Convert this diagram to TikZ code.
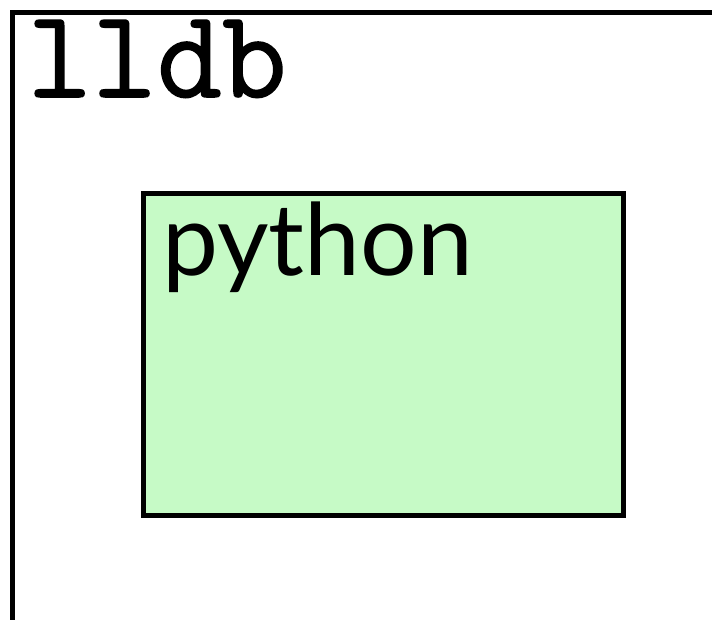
\documentclass[tikz,border=0pt]{standalone}
\usepackage{fontspec}
\newfontfamily\codefont{Latin Modern Mono}[FakeBold=1.2]
\newfontfamily\labelfont{Lato}
\definecolor{pyfill}{HTML}{C6FAC6}
\begin{document}
\begin{tikzpicture}[x=1pt,y=-1pt,
  frame/.style={draw=black,line width=5pt},
  pybox/.style={frame,fill=pyfill,inner sep=0pt,outer sep=0pt,minimum width=480pt,minimum height=322pt,anchor=north west}]
\useasboundingbox (0,0) rectangle (712,619);
\clip (0,0) rectangle (712,619);
% outer lldb frame, running off the right and bottom edges
\coordinate (lldbbl) at (12.5,640);
\coordinate (lldbtl) at (12.5,12.5);
\coordinate (lldbtr) at (740,12.5);
\draw[frame] (lldbbl) -- (lldbtl) -- (lldbtr);
\node[anchor=base west,inner sep=0pt,font=\codefont\fontsize{126}{126}\selectfont] (lldb) at (27,97) {lldb};
% embedded python box
\node[pybox] (python) at (143.5,193.5) {};
\node[anchor=base west,inner sep=0pt,font=\labelfont\fontsize{100}{100}\selectfont] (pylabel) at (162,275) {python};
\end{tikzpicture}
\end{document}
